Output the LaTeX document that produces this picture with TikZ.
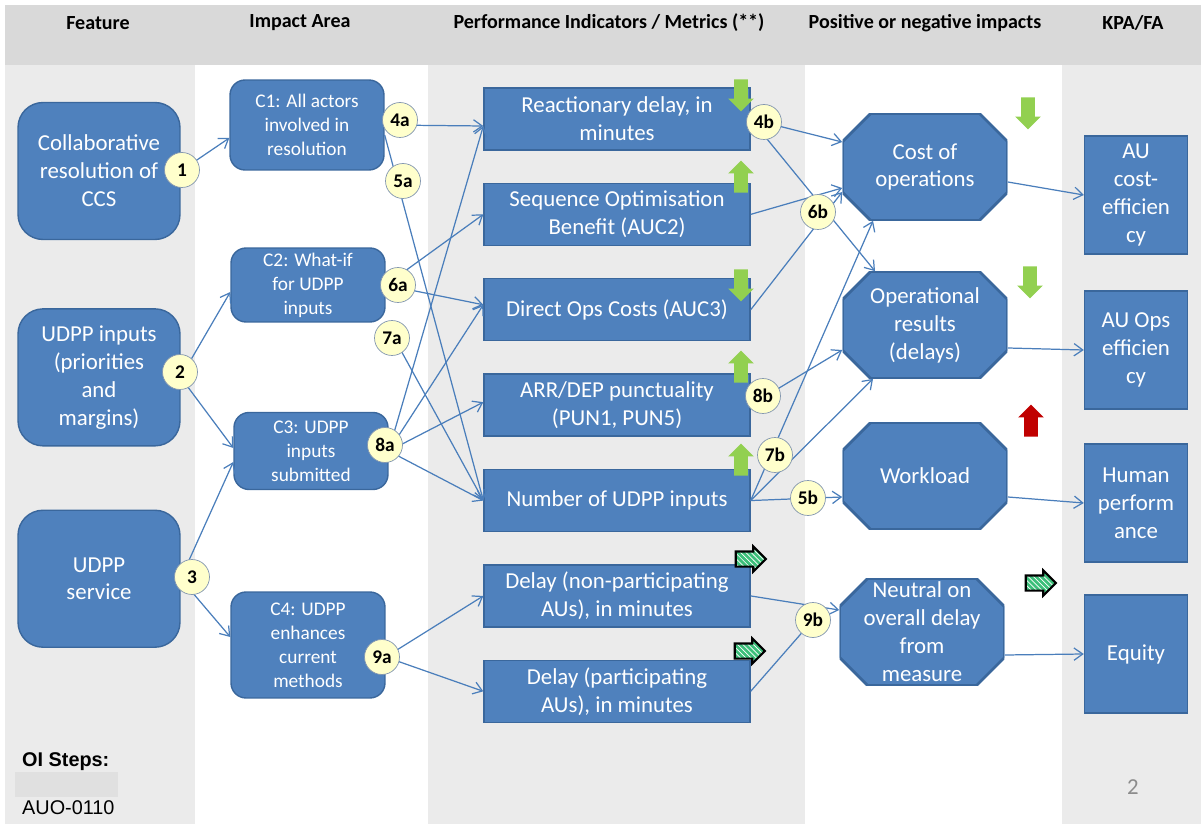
\documentclass[tikz,border=0pt]{standalone}
\usepackage{fontspec}
\setmainfont{Carlito}
\newfontfamily\arialfont{Liberation Sans}
\usepackage{tikz}
\usetikzlibrary{shapes,arrows,arrows.meta,patterns}
\usetikzlibrary{positioning}
\definecolor{boxfill}{HTML}{4F81BD}
\definecolor{boxline}{HTML}{3A679C}
\definecolor{wirecol}{HTML}{4A7EBB}
\definecolor{badgefill}{HTML}{FFFFCC}
\definecolor{badgeline}{HTML}{8497B0}
\definecolor{headgray}{HTML}{D9D9D9}
\definecolor{colgray}{HTML}{EBEBEB}
\definecolor{stepgray}{HTML}{E0E0E0}
\definecolor{trendgreen}{HTML}{92D050}
\definecolor{trendred}{HTML}{C00000}
\definecolor{stripegreen}{HTML}{3CBF7A}
\definecolor{pagegray}{HTML}{8C8C8C}
\tikzset{>={Straight Barb[length=5pt,width=7pt]}, node distance=1cm, font=\fontsize{13}{15.9}\selectfont}
\tikzstyle{box} = [draw=boxline, fill=boxfill, line width=0.8pt, text=white, align=center, inner sep=0pt]
\tikzstyle{feature} = [box, rounded corners=0.5cm, minimum width=3.24cm, minimum height=2.74cm]
\tikzstyle{impact} = [box, rounded corners=0.3cm, minimum width=3.08cm, font=\fontsize{11}{13.6}\selectfont]
\tikzstyle{metric} = [box, rectangle, minimum width=5.32cm, minimum height=1.24cm]
\tikzstyle{effect} = [rectangle, text=white, align=center, inner sep=0pt, minimum width=3.3cm, minimum height=2.14cm,
	path picture={\filldraw [fill=boxfill, draw=boxline, line width=1.6pt]
		([xshift=0.56cm]path picture bounding box.north west) -- ([xshift=-0.56cm]path picture bounding box.north east)
		-- ([yshift=-0.56cm]path picture bounding box.north east) -- ([yshift=0.56cm]path picture bounding box.south east)
		-- ([xshift=-0.56cm]path picture bounding box.south east) -- ([xshift=0.56cm]path picture bounding box.south west)
		-- ([yshift=0.56cm]path picture bounding box.south west) -- ([yshift=-0.56cm]path picture bounding box.north west) -- cycle;}]
\tikzstyle{kpa} = [box, rectangle, minimum width=2.06cm, minimum height=2.36cm]
\tikzstyle{badge} = [draw=badgeline, fill=badgefill, circle, minimum size=0.7cm, inner sep=0pt, font=\bfseries\fontsize{11}{11}\selectfont]
\tikzstyle{colhead} = [font=\bfseries\fontsize{11.4}{13}\selectfont]
\tikzstyle{wire} = [->, draw=wirecol, line width=0.7pt]
\tikzstyle{trendarrow} = [single arrow, inner xsep=0pt, inner ysep=0.13cm, minimum height=0.64cm, minimum width=0.5cm, single arrow head extend=0.12cm]
\tikzstyle{flatarrow} = [single arrow, inner xsep=0pt, inner ysep=0.13cm, minimum height=0.6cm, minimum width=0.46cm, single arrow head extend=0.1cm,
	draw=black, line width=1.2pt, preaction={fill=stripegreen}, pattern=north west lines, pattern color=white]

\begin{document}
\begin{tikzpicture}[x=0.02cm, y=-0.02cm]
	\useasboundingbox (0,0) rectangle (1201,824);
	\fill [headgray] (5,5) rectangle (1201,65);
	\fill [colgray] (5,65) rectangle (195,824);
	\fill [colgray] (428,65) rectangle (805,824);
	\fill [colgray] (1062,65) rectangle (1201,824);
	\fill [stepgray] (15,772) rectangle (118,797);

	\node [colhead] (h_feature) at (98,23) {Feature};
	\node [colhead] (h_impact) at (300,23) {Impact Area};
	\node [colhead] (h_metric) at (609,23) {Performance Indicators / Metrics (**)};
	\node [colhead] (h_effect) at (925,23) {Positive or negative impacts};
	\node [colhead] (h_kpa) at (1133,23) {KPA/FA};

	\node [feature] (f_ccs) at (99,171) {Collaborative\\resolution of\\CCS};
	\node [feature, below=1.36cm of f_ccs] (f_inputs) {UDPP inputs\\(priorities\\and\\margins)};
	\node [feature, below=1.26cm of f_inputs] (f_service) {UDPP\\service};

	\node [impact, minimum height=1.8cm] (c1) at (307,125) {C1: All actors\\involved in\\resolution};
	\node [impact, minimum height=1.48cm] (c2) at (308,285) {C2: What-if\\for UDPP\\inputs};
	\node [impact, minimum height=1.54cm] (c3) at (311,451) {C3: UDPP\\inputs\\submitted};
	\node [impact, minimum height=2.12cm] (c4) at (308,645) {C4: UDPP\\enhances\\current\\methods};

	\node [metric] (p_react) at (617,119) {Reactionary delay, in\\minutes};
	\node [metric, below=0.64cm of p_react] (p_seq) {Sequence Optimisation\\Benefit (AUC2)};
	\node [metric, below=0.64cm of p_seq] (p_cost) {Direct Ops Costs (AUC3)};
	\node [metric, below=0.64cm of p_cost] (p_punct) {ARR/DEP punctuality\\(PUN1, PUN5)};
	\node [metric, below=0.64cm of p_punct] (p_count) {Number of UDPP inputs};
	\node [metric, below=0.64cm of p_count] (p_nonpart) {Delay (non-participating\\AUs), in minutes};
	\node [metric, below=0.64cm of p_nonpart] (p_part) {Delay (participating\\AUs), in minutes};

	\node [effect] (o_cost) at (925,167) {Cost of\\operations};
	\node [effect] (o_ops) at (925,325) {Operational\\results\\(delays)};
	\node [effect] (o_load) at (925,476) {Workload};
	\node [effect] (o_neutral) at (922,632) {Neutral on\\overall delay\\from\\measure};

	\node [kpa] (k_cost) at (1136,195) {AU\\cost-\\efficien\\cy};
	\node [kpa] (k_ops) at (1136,350) {AU Ops\\efficien\\cy};
	\node [kpa] (k_human) at (1136,503) {Human\\perform\\ance};
	\node [kpa] (k_equity) at (1136,654) {Equity};

	\node [trendarrow, fill=trendgreen, rotate=-90] (t_react) at (741,92) {};
	\node [trendarrow, fill=trendgreen, rotate=90] (t_seq) at (741,180) {};
	\node [trendarrow, fill=trendgreen, rotate=-90] (t_cost) at (741,282) {};
	\node [trendarrow, fill=trendgreen, rotate=90] (t_punct) at (741,370) {};
	\node [trendarrow, fill=trendgreen, rotate=90] (t_count) at (741,463) {};
	\node [flatarrow] (t_nonpart) at (747,559) {};
	\node [flatarrow] (t_part) at (746,651) {};
	\node [trendarrow, fill=trendgreen, rotate=-90] (t_opcost) at (1028,110) {};
	\node [trendarrow, fill=trendgreen, rotate=-90] (t_opres) at (1030,279) {};
	\node [trendarrow, fill=trendred, rotate=90] (t_load) at (1031,424) {};
	\node [flatarrow] (t_neutral) at (1037,583) {};

	\draw [wire] (f_ccs.east) -- ([yshift=-0.26cm]c1.west);
	\draw [wire] (f_inputs.east) -- ([yshift=-0.14cm]c2.west);
	\draw [wire] (f_inputs.east) -- ([yshift=0.06cm]c3.west);
	\draw [wire] (f_service.east) -- ([yshift=-0.22cm]c3.west);
	\draw [wire] (f_service.east) -- ([yshift=0.16cm]c4.west);

	\draw [wire] (c1.east) -- ([yshift=-0.14cm]p_react.west);
	\draw [wire] ([yshift=-0.2cm]c1.east) -- (p_count.west);
	\draw [wire] (c2.east) -- (p_seq.west);
	\draw [wire] (c2.east) -- ([yshift=0.1cm]p_cost.west);
	\draw [wire] (c2.south east) -- (p_count.west);
	\draw [wire] (c3.east) -- ([yshift=-0.14cm]p_react.west);
	\draw [wire] (c3.east) -- ([yshift=0.1cm]p_cost.west);
	\draw [wire] (c3.east) -- ([yshift=0.06cm]p_punct.west);
	\draw [wire] (c3.east) -- (p_count.west);
	\draw [wire] ([yshift=-0.24cm]c4.east) -- (p_nonpart.west);
	\draw [wire] ([yshift=-0.24cm]c4.east) -- (p_part.west);

	\draw [wire] (p_react.east) -- ([yshift=0.5cm]o_cost.west);
	\draw [wire] (p_react.east) -- ([xshift=-1cm]o_ops.north);
	\draw [wire] (p_seq.east) -- ([yshift=-0.42cm]o_cost.west);
	\draw [wire] (p_cost.east) -- ([yshift=-0.5cm]o_cost.west);
	\draw [wire] (p_punct.east) -- ([yshift=-0.5cm]o_ops.west);
	\draw [wire] (p_count.east) -- ([xshift=-1.04cm]o_cost.south);
	\draw [wire] (p_count.east) -- ([xshift=-1.04cm]o_ops.south);
	\draw [wire] (p_count.east) -- ([yshift=-0.42cm]o_load.west);
	\draw [wire] (p_nonpart.east) -- ([yshift=0.44cm]o_neutral.west);

	\draw [wire] ([yshift=-0.3cm]o_cost.east) -- (k_cost.west);
	\draw [wire] ([yshift=-0.46cm]o_ops.east) -- (k_ops.west);
	\draw [wire] ([yshift=-0.42cm]o_load.east) -- (k_human.west);
	\draw [wire] ([yshift=-0.46cm]o_neutral.east) -- (k_equity.west);

	\node [badge] (b_1) at (182,170) {1};
	\node [badge] (b_2) at (180,372) {2};
	\node [badge] (b_3) at (192,577) {3};
	\node [badge] (b_4a) at (400,120) {4a};
	\node [badge] (b_5a) at (403,181) {5a};
	\node [badge] (b_6a) at (398,285) {6a};
	\node [badge] (b_7a) at (392,338) {7a};
	\node [badge] (b_8a) at (385,445) {8a};
	\node [badge] (b_9a) at (382,657) {9a};
	\node [badge] (b_4b) at (764,122) {4b};
	\node [badge] (b_6b) at (818,212) {6b};
	\node [badge] (b_8b) at (763,396) {8b};
	\node [badge] (b_7b) at (775,455) {7b};
	\node [badge] (b_5b) at (808,498) {5b};
	\node [badge] (b_9b) at (813,620) {9b};

	\draw [wire, -] (p_part.east) -- (b_9b);

	\node [anchor=west, font=\arialfont\bfseries\fontsize{11.3}{13}\selectfont] (oi_title) at (16,762) {OI Steps:};
	\node [anchor=west, font=\arialfont\fontsize{11.3}{13}\selectfont] (oi_step) at (16,808) {AUO-0110};
	\node [text=pagegray] (page_no) at (1133,787) {2};
\end{tikzpicture}
\end{document}
